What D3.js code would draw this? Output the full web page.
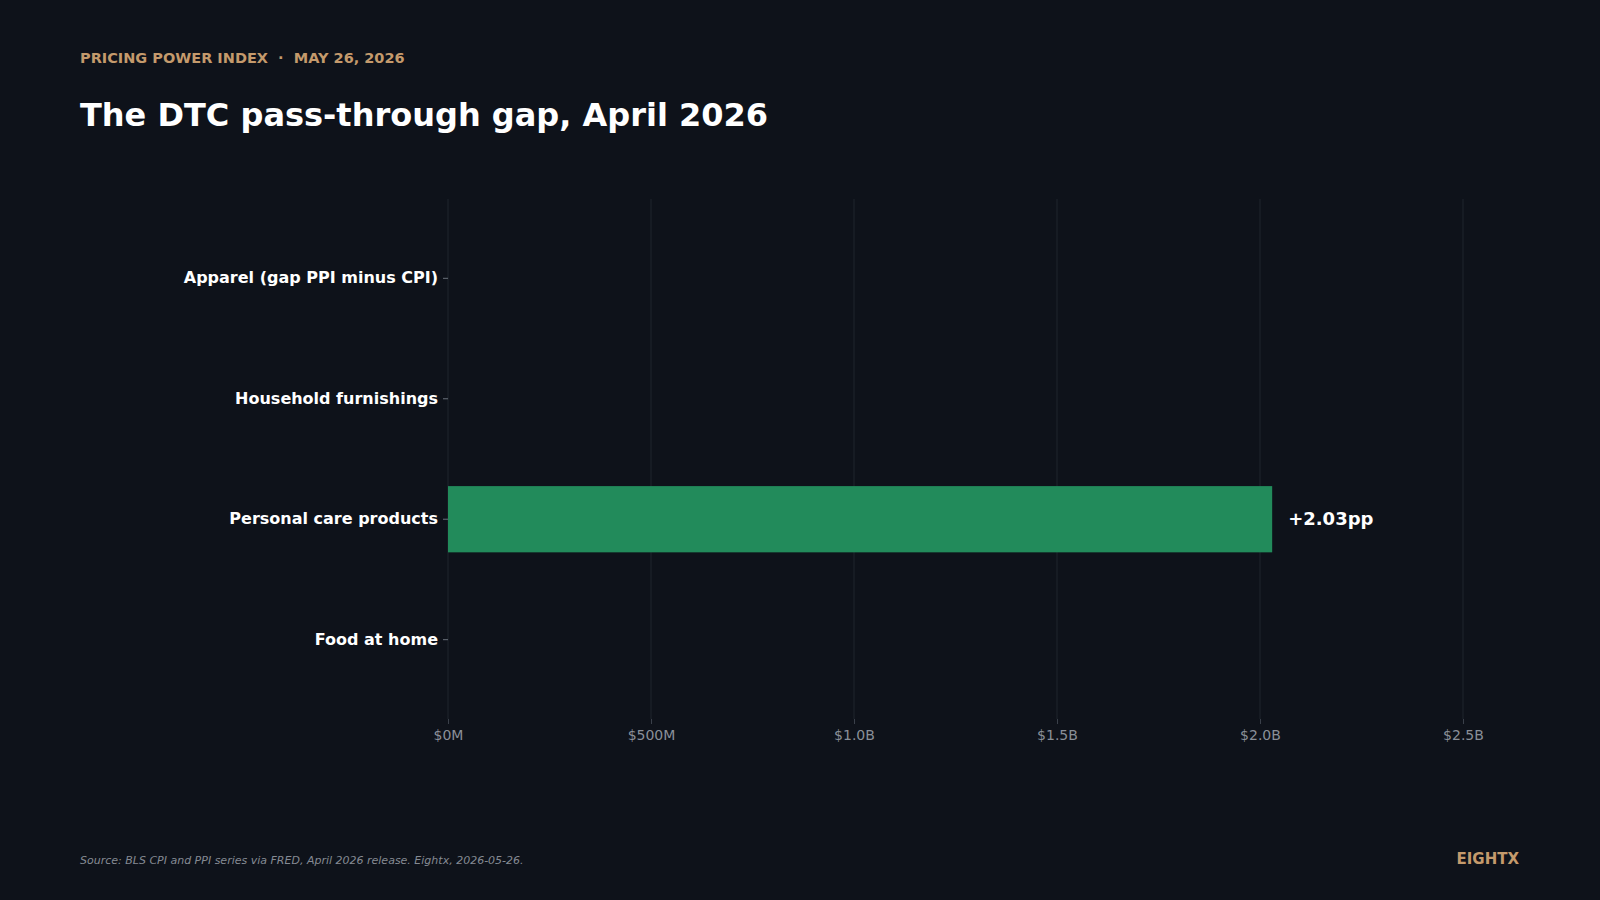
<!DOCTYPE html>
<html><head><meta charset="utf-8">
<script src="https://cdn.jsdelivr.net/npm/d3@7"></script>
<style>html,body{margin:0;background:#0e121a;}svg{display:block;font-family:"DejaVu Sans",sans-serif;}</style>
</head><body><svg id="c" width="1600" height="900"></svg>
<script>
const categories = ["Apparel (gap PPI minus CPI)", "Household furnishings", "Personal care products", "Food at home"];
const values = [null, null, 2.03, null];
const valueLabels = ["", "", "+2.03pp", ""];
const tickValues = [0, 0.5, 1.0, 1.5, 2.0, 2.5];
const tickLabels = ["$0M", "$500M", "$1.0B", "$1.5B", "$2.0B", "$2.5B"];

(function(){
const svg = d3.select("#c");
svg.append("rect").attr("width",1600).attr("height",900).attr("fill","#0e121a");
svg.append("text").attr("x",80).attr("y",63).attr("fill","#c49a6c").attr("font-size",14.5).attr("font-weight","bold")
  .style("white-space","pre").text("PRICING POWER INDEX  ·  MAY 26, 2026");
svg.append("text").attr("x",80).attr("y",126).attr("fill","#ffffff").attr("font-size",32).attr("font-weight","bold")
  .text("The DTC pass-through gap, April 2026");

const x = d3.scaleLinear().domain([0,2.5]).range([448,1463]);
const y = d3.scaleBand().domain(categories).range([191,727]).padding(0.45);
const plotTop=199, plotBottom=719;

svg.append("g").selectAll("line").data(tickValues).join("line")
  .attr("x1",d=>x(d)).attr("x2",d=>x(d)).attr("y1",plotTop).attr("y2",plotBottom)
  .attr("stroke","#1f242d").attr("stroke-width",1);

const xa = svg.append("g").attr("transform",`translate(0,${plotBottom})`)
  .call(d3.axisBottom(x).tickValues(tickValues).tickFormat((d,i)=>tickLabels[i]).tickSize(5).tickPadding(6));
xa.select(".domain").remove();
xa.selectAll("line").attr("stroke","#3a404a");
xa.selectAll("text").attr("fill","#8a8f98").attr("font-size",14).attr("font-family","DejaVu Sans, sans-serif");

const ya = svg.append("g").attr("transform",`translate(448,0)`)
  .call(d3.axisLeft(y).tickSize(5).tickPadding(5));
ya.select(".domain").remove();
ya.selectAll("line").attr("stroke","#6a707a");
ya.selectAll("text").attr("fill","#ffffff").attr("font-size",16).attr("font-weight","bold").attr("font-family","DejaVu Sans, sans-serif");

const data = categories.map((c,i)=>({c,v:values[i],l:valueLabels[i]})).filter(d=>d.v!=null);
svg.append("g").selectAll("rect").data(data).join("rect")
  .attr("x",x(0)).attr("y",d=>y(d.c)).attr("width",d=>x(d.v)-x(0)).attr("height",y.bandwidth())
  .attr("fill","#228b5b");
svg.append("g").selectAll("text").data(data).join("text")
  .attr("x",d=>x(d.v)+16).attr("y",d=>y(d.c)+y.bandwidth()/2).attr("dy","0.3em")
  .attr("fill","#ffffff").attr("font-size",18).attr("font-weight","bold").text(d=>d.l);

svg.append("text").attr("x",80).attr("y",864).attr("fill","#858a93").attr("font-size",11).attr("font-style","italic")
  .text("Source: BLS CPI and PPI series via FRED, April 2026 release. Eightx, 2026-05-26.");
svg.append("text").attr("x",1519).attr("y",864).attr("text-anchor","end").attr("fill","#c49a6c").attr("font-size",15).attr("font-weight","bold")
  .text("EIGHTX");
})();
</script></body></html>
